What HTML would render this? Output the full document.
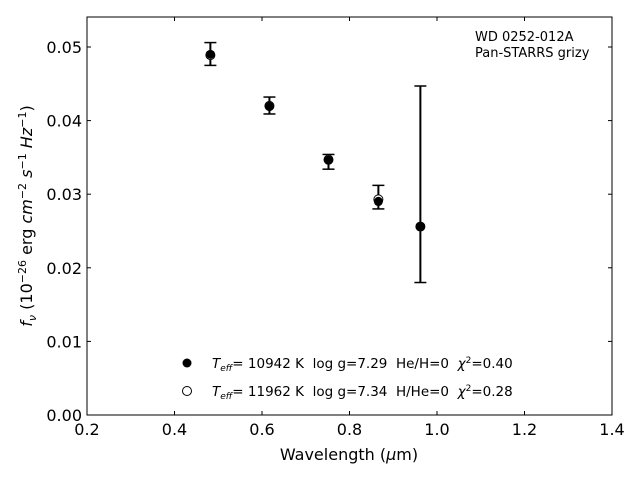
<!DOCTYPE html>
<html><head><meta charset="utf-8"><style>
body{margin:0;background:#fff;}
svg{font-family:"DejaVu Sans","Liberation Sans",sans-serif;}
text{white-space:pre;}
</style></head><body>
<svg id="c" width="640" height="480" xmlns="http://www.w3.org/2000/svg"></svg>
<script>
const wavelengths=[0.482,0.617,0.752,0.866,0.962];
const fluxObs=[0.0490,0.0420,0.0347,0.0291,0.0256];
const errLow=[0.0475,0.0409,0.0334,0.0280,0.0180];
const errHigh=[0.0506,0.0432,0.0354,0.0312,0.0447];
const modelA=[0.0490,0.0419,0.0346,0.0290,0.0256];
const modelB=[0.0489,0.0420,0.0347,0.0293,0.0256];
const xTicks=[0.2,0.4,0.6,0.8,1.0,1.2,1.4];
const xTickLabels=["0.2","0.4","0.6","0.8","1.0","1.2","1.4"];
const yTicks=[0,0.01,0.02,0.03,0.04,0.05];
const yTickLabels=["0.00","0.01","0.02","0.03","0.04","0.05"];
const L=87,R=612,T=17,B=415;
const X=v=>L+(v-0.2)/1.2*(R-L);
const Y=v=>B-v*7360;
const s=document.getElementById('c');
const NS="http://www.w3.org/2000/svg";
function mk(t,a,p){const e=document.createElementNS(NS,t);for(const k in a)e.setAttribute(k,a[k]);(p||s).appendChild(e);return e;}
let e;
e=mk('rect',{x:L,y:T,width:R-L,height:B-T,fill:'none',stroke:'#000','stroke-width':1});


xTicks.forEach((v,i)=>{
 mk('line',{x1:X(v),x2:X(v),y1:B,y2:B-4,stroke:'#000'});
 mk('line',{x1:X(v),x2:X(v),y1:T,y2:T+4,stroke:'#000'});
 e=mk('text',{x:X(v),y:B+20,'text-anchor':'middle','font-size':16});e.textContent=xTickLabels[i];
 
 
});
yTicks.forEach((v,i)=>{
 mk('line',{x1:L,x2:L+4,y1:Y(v),y2:Y(v),stroke:'#000'});
 mk('line',{x1:R,x2:R-4,y1:Y(v),y2:Y(v),stroke:'#000'});
 e=mk('text',{x:L-5,y:Y(v)+6,'text-anchor':'end','font-size':16});e.textContent=yTickLabels[i];
 
 
});
wavelengths.forEach((w,i)=>{
 const g=mk('g',{});
 
 
 const x=X(w);
 mk('line',{x1:x,x2:x,y1:Y(errLow[i]),y2:Y(errHigh[i]),stroke:'#000','stroke-width':2},g);
 mk('line',{x1:x-6,x2:x+6,y1:Y(errLow[i]),y2:Y(errLow[i]),stroke:'#000','stroke-width':1.5},g);
 mk('line',{x1:x-6,x2:x+6,y1:Y(errHigh[i]),y2:Y(errHigh[i]),stroke:'#000','stroke-width':1.5},g);
 mk('circle',{cx:x,cy:Y(modelB[i]),r:4.5,fill:'#fff',stroke:'#000','stroke-width':1},g);
 mk('circle',{cx:x,cy:Y(modelA[i]),r:4.5,fill:'#000'},g);
 mk('circle',{cx:x,cy:Y(fluxObs[i]),r:4,fill:'#000'},g);
});
</script>
<svg width="640" height="480" style="position:absolute;left:0;top:0">
<text x="349" y="460" text-anchor="middle" font-size="16">Wavelength (<tspan font-style="italic">μ</tspan>m)</text>
<text transform="translate(32,216) rotate(-90)" text-anchor="middle" font-size="16"><tspan font-style="italic">f</tspan><tspan font-style="italic" font-size="11" dy="4">ν</tspan><tspan dy="-4"> (10</tspan><tspan font-size="11" dy="-6">−26</tspan><tspan dy="6"> erg </tspan><tspan font-style="italic">cm</tspan><tspan font-size="11" dy="-6">−2</tspan><tspan dy="6"> </tspan><tspan font-style="italic">s</tspan><tspan font-size="11" dy="-6">−1</tspan><tspan dy="6"> </tspan><tspan font-style="italic">Hz</tspan><tspan font-size="11" dy="-6">−1</tspan><tspan dy="6">)</tspan></text>
<text x="475" y="41" font-size="13">WD 0252-012A</text>
<text x="475" y="57" font-size="13">Pan-STARRS grizy</text>
<g>
<circle cx="187" cy="363" r="4.5" fill="#000"/>
<text x="212" y="368" font-size="13.5"><tspan font-style="italic">T</tspan><tspan font-style="italic" font-size="9" dy="3">eff</tspan><tspan dy="-3">= 10942 K  log g=7.29  He/H=0  </tspan><tspan font-style="italic">χ</tspan><tspan font-size="9" dy="-5">2</tspan><tspan dy="5">=0.40</tspan></text>
<circle cx="187" cy="391" r="4.5" fill="#fff" stroke="#000"/>
<text x="212" y="396" font-size="13.5"><tspan font-style="italic">T</tspan><tspan font-style="italic" font-size="9" dy="3">eff</tspan><tspan dy="-3">= 11962 K  log g=7.34  H/He=0  </tspan><tspan font-style="italic">χ</tspan><tspan font-size="9" dy="-5">2</tspan><tspan dy="5">=0.28</tspan></text>
</g>
</svg>
</body></html>
